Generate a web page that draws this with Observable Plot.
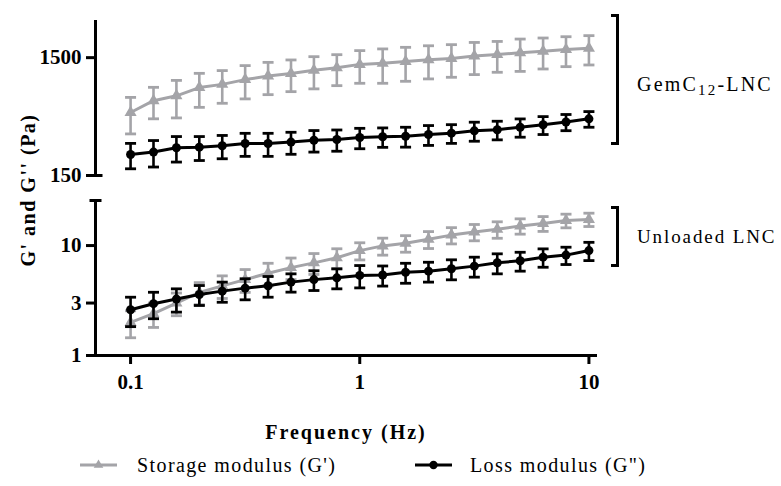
<!DOCTYPE html>
<html><head><meta charset="utf-8">
<script src="https://cdn.jsdelivr.net/npm/d3@7"></script>
<script src="https://cdn.jsdelivr.net/npm/@observablehq/plot@0.6"></script>
<style>
body{margin:0;background:#fff;}
#wrap{position:relative;width:781px;height:486px;font-family:"Liberation Serif","Times New Roman",Tinos,"DejaVu Serif",serif;color:#000;overflow:hidden;}
#wrap svg{position:absolute;left:0;overflow:visible;}
.abs{position:absolute;white-space:nowrap;line-height:1;}
.bracket{position:absolute;border:3px solid #000;border-left:none;width:5px;}
</style></head><body><div id="wrap"></div>
<script>
// Frequency (Hz)
const freq = [0.1, 0.1259, 0.1585, 0.1995, 0.2512, 0.3162, 0.3981, 0.5012, 0.631, 0.7943, 1, 1.259, 1.585, 1.995, 2.512, 3.162, 3.981, 5.012, 6.31, 7.943, 10];
// GemC12-LNC
const gemStorage   = [514, 647, 712, 836, 890, 977, 1048, 1103, 1172, 1229, 1315, 1344, 1390, 1441, 1478, 1548, 1593, 1652, 1702, 1758, 1803];
const gemStorageSD = [176, 193, 250, 268, 275, 307, 320, 331, 357, 361, 406, 435, 445, 451, 456, 471, 466, 505, 500, 500, 503];
const gemLoss      = [226, 237, 258, 261, 268, 280, 280, 288, 299, 303, 315, 320, 323, 334, 343, 359, 367, 385, 404, 427, 454];
const gemLossSD    = [55, 60, 63, 60, 60, 62, 62, 61, 62, 62, 62, 60, 62, 64, 62, 66, 66, 68, 70, 67, 69];
// Unloaded LNC
const unlStorage   = [2.0, 2.4, 3.0, 3.75, 4.3, 4.9, 5.6, 6.3, 6.96, 7.75, 9.0, 9.93, 10.5, 11.4, 12.45, 13.3, 14.05, 15.1, 15.9, 16.9, 17.3];
const unlStorageSD = [0.55, 0.6, 0.7, 0.85, 1.0, 1.15, 1.3, 1.4, 1.5, 1.6, 1.6, 1.75, 1.8, 2.0, 2.1, 2.25, 2.4, 2.4, 2.45, 2.4, 2.4];
const unlLoss      = [2.61, 2.96, 3.26, 3.59, 3.85, 4.1, 4.31, 4.65, 4.9, 5.09, 5.35, 5.4, 5.72, 5.85, 6.15, 6.5, 6.97, 7.27, 7.84, 8.19, 9.0];
const unlLossSD    = [0.78, 0.8, 0.78, 0.74, 0.8, 0.89, 0.92, 0.88, 1.0, 1.05, 1.23, 1.12, 1.18, 1.2, 1.27, 1.34, 1.44, 1.42, 1.49, 1.47, 1.7];
// ticks & domains
const xTicks = [0.1, 1, 10];
const topTicks = [150, 1500];
const bottomTicks = [1, 3, 10];
const xDomain = [0.0703, 10.9];
const topDomain = [150, 3100];
const bottomDomain = [1, 25.7];
const yLabel = "G' and G'' (Pa)";
const xLabel = "Frequency (Hz)";
const seriesNames = ["Storage modulus (G')", "Loss modulus (G\")"];

const FONT = "'Liberation Serif','Times New Roman',Tinos,'DejaVu Serif',serif";
const GRAY = "#a4a4a8", BLACK = "#000";
const cap = {draw(ctx, size){ const r = Math.sqrt(size/Math.PI); ctx.moveTo(-r,0); ctx.lineTo(r,0); }};
const rows = (means, sds) => freq.map((f,i)=>({f, m: means[i], lo: means[i]-sds[i], hi: means[i]+sds[i]}));
function seriesMarks(data, color, symbol, r){
  return [
    Plot.ruleX(data, {x:"f", y1:"lo", y2:"hi", stroke: color, strokeWidth: 2.6}),
    Plot.dot(data, {x:"f", y:"lo", symbol: cap, r: 5.5, stroke: color, strokeWidth: 2.8, fill: "none"}),
    Plot.dot(data, {x:"f", y:"hi", symbol: cap, r: 5.5, stroke: color, strokeWidth: 2.8, fill: "none"}),
    Plot.line(data, {x:"f", y:"m", stroke: color, strokeWidth: 3}),
    Plot.dot(data, {x:"f", y:"m", symbol, r, fill: color, stroke: "none"})
  ];
}
const style = {fontFamily: FONT, fontSize:"21px", fontWeight:"bold", color:"#000", background:"none", overflow:"visible"};

const topPlot = Plot.plot({
  width: 781, height: 190, marginLeft: 95, marginRight: 184, marginTop: 20, marginBottom: 15,
  x: {type:"log", domain: xDomain, axis: null},
  y: {type:"log", domain: topDomain},
  style,
  marks: [
    Plot.axisY({ticks: topTicks, tickSize: 9, tickPadding: 5, strokeWidth: 3, label: null, tickFormat: d => String(d)}),
    Plot.ruleX([xDomain[0]], {strokeWidth: 3}),
    Plot.dot([topDomain[0]], {x: () => xDomain[0], y: d => d, symbol: cap, r: 7, stroke: BLACK, strokeWidth: 3}),
    ...seriesMarks(rows(gemStorage, gemStorageSD), GRAY, "triangle", 4.5),
    ...seriesMarks(rows(gemLoss, gemLossSD), BLACK, "circle", 4.5)
  ]
});
const bottomPlot = Plot.plot({
  width: 781, height: 215, marginLeft: 95, marginRight: 184, marginTop: 15, marginBottom: 45,
  x: {type:"log", domain: xDomain},
  y: {type:"log", domain: bottomDomain},
  style,
  marks: [
    Plot.axisY({ticks: bottomTicks, tickSize: 9, tickPadding: 5, strokeWidth: 3, label: null, tickFormat: d => String(d)}),
    Plot.axisX({ticks: xTicks, tickSize: 9, tickPadding: 10, strokeWidth: 3, label: null, tickFormat: d => String(d)}),
    Plot.ruleX([xDomain[0]], {strokeWidth: 3}),
    Plot.ruleY([bottomDomain[0]], {strokeWidth: 3}),
    Plot.dot([bottomDomain[1]], {x: () => xDomain[0], y: d => d, symbol: cap, r: 6, stroke: BLACK, strokeWidth: 3}),
    ...seriesMarks(rows(unlStorage, unlStorageSD), GRAY, "triangle", 4.5),
    ...seriesMarks(rows(unlLoss, unlLossSD), BLACK, "circle", 4.5)
  ]
});
const wrap = document.getElementById("wrap");
topPlot.style.top = "0px";
bottomPlot.style.top = "185px";
wrap.appendChild(topPlot);
wrap.appendChild(bottomPlot);

function addText(html, css){ const d = document.createElement("div"); d.className = "abs"; d.innerHTML = html; Object.assign(d.style, css); wrap.appendChild(d); return d; }
// y label
addText(yLabel, {left:"28px", top:"190px", fontSize:"20px", fontWeight:"bold", letterSpacing:"1.5px", transform:"translate(-50%,-50%) rotate(-90deg)"});
// x label
addText(xLabel, {left:"346px", top:"432px", fontSize:"20px", fontWeight:"bold", letterSpacing:"2px", transform:"translate(-50%,-50%)"});
// brackets
const b1 = document.createElement("div"); b1.className="bracket"; Object.assign(b1.style,{left:"611px", top:"14px", height:"125px"}); wrap.appendChild(b1);
const b2 = document.createElement("div"); b2.className="bracket"; Object.assign(b2.style,{left:"611px", top:"206px", height:"55px"}); wrap.appendChild(b2);
addText("GemC<sub style='font-size:15px;vertical-align:-4px'>12</sub>-LNC", {left:"637px", top:"86px", fontSize:"20px", letterSpacing:"2.2px", transform:"translateY(-50%)"});
addText("Unloaded LNC", {left:"637px", top:"236px", fontSize:"19px", letterSpacing:"1.9px", transform:"translateY(-50%)"});
// legend
function swatch(left, color, kind){
  const ns = "http://www.w3.org/2000/svg";
  const s = document.createElementNS(ns, "svg");
  s.setAttribute("width", 40); s.setAttribute("height", 14);
  s.style.position = "absolute"; s.style.left = left + "px"; s.style.top = "458px";
  const l = document.createElementNS(ns, "line");
  l.setAttribute("x1", 1); l.setAttribute("x2", 38); l.setAttribute("y1", 7); l.setAttribute("y2", 7);
  l.setAttribute("stroke", color); l.setAttribute("stroke-width", 3); s.appendChild(l);
  const p = document.createElementNS(ns, "path");
  p.setAttribute("d", d3.symbol(kind === "tri" ? d3.symbolTriangle : d3.symbolCircle, kind === "tri" ? 40 : 55)());
  p.setAttribute("transform", "translate(19.5,7)"); p.setAttribute("fill", color); s.appendChild(p);
  wrap.appendChild(s);
}
swatch(79, GRAY, "tri");
swatch(414, BLACK, "dot");
addText(seriesNames[0], {left:"137px", top:"465px", fontSize:"20px", letterSpacing:"1.4px", transform:"translateY(-50%)"});
addText(seriesNames[1], {left:"470px", top:"465px", fontSize:"20px", letterSpacing:"1.4px", transform:"translateY(-50%)"});
</script></body></html>
